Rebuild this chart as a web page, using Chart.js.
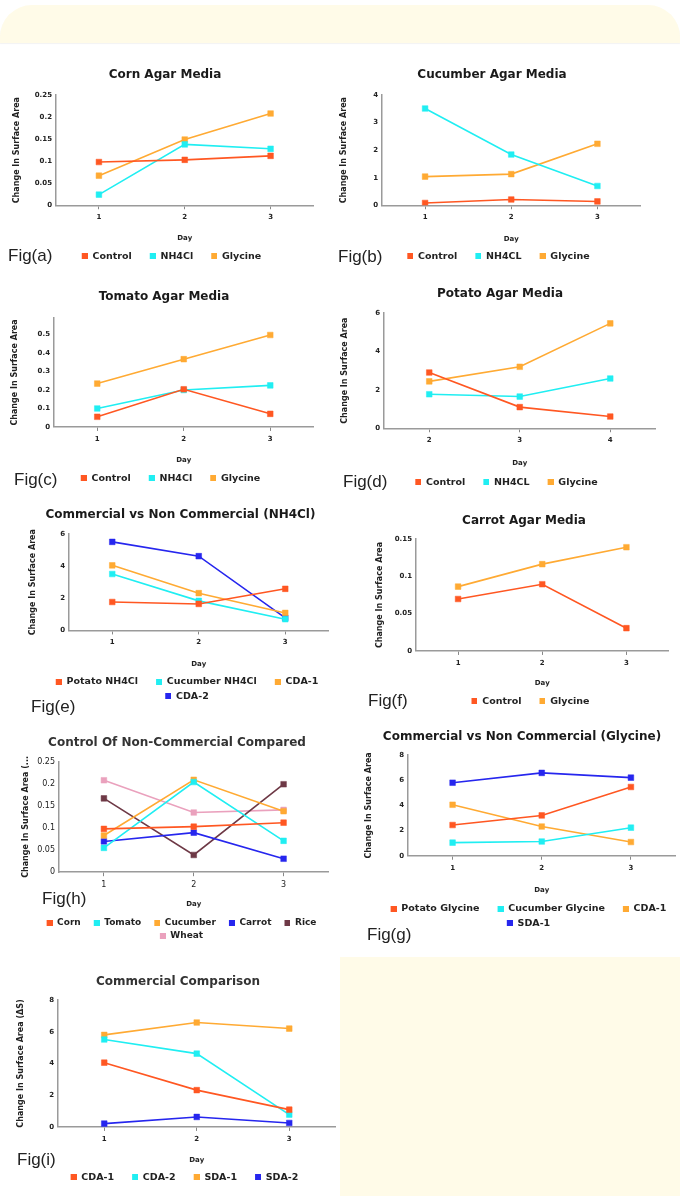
<!DOCTYPE html>
<html>
<head>
<meta charset="utf-8">
<script src="https://cdn.jsdelivr.net/npm/chart.js@4.4.0/dist/chart.umd.min.js"></script>
<style>
  html, body { margin: 0; padding: 0; background: #fff; }
  body { position: relative; width: 680px; height: 1196px; overflow: hidden; }
  .banner { position: absolute; left: 0; top: 5px; width: 680px; height: 38px; background: #fffbe8;
            border-radius: 32px 32px 0 0; box-shadow: 0 1px 1px rgba(0,0,0,0.05); }
  .note { position: absolute; left: 340px; top: 957px; width: 340px; height: 239px; background: #fffbe8; }
  .fig { position: absolute; font-family: "Liberation Sans", Arial, sans-serif; font-size: 17px; color: #222;
         line-height: 20px; height: 20px; white-space: nowrap; z-index: 2; }
  canvas { position: absolute; }
</style>
</head>
<body>
<div class="banner"></div>
<div class="note"></div>

<canvas id="figA"></canvas>
<canvas id="figB"></canvas>
<canvas id="figC"></canvas>
<canvas id="figD"></canvas>
<canvas id="figE"></canvas>
<canvas id="figF"></canvas>
<canvas id="figH"></canvas>
<canvas id="figG"></canvas>
<canvas id="figI"></canvas>

<div class="fig" style="left:8px;top:246px">Fig(a)</div>
<div class="fig" style="left:338px;top:247px">Fig(b)</div>
<div class="fig" style="left:14px;top:470px">Fig(c)</div>
<div class="fig" style="left:343px;top:472px">Fig(d)</div>
<div class="fig" style="left:31px;top:697px">Fig(e)</div>
<div class="fig" style="left:368px;top:691px">Fig(f)</div>
<div class="fig" style="left:42px;top:889px">Fig(h)</div>
<div class="fig" style="left:367px;top:925px">Fig(g)</div>
<div class="fig" style="left:17px;top:1150px">Fig(i)</div>

<script>
// categories (days)
var days = ["1", "2", "3"];
var potatoDays = ["2", "3", "4"];

// control media
var cornControl = [0.098, 0.103, 0.112];
var tomatoControl = [0.055, 0.204, 0.071];
var cucumberControl = [0.083, 0.209, 0.138];
var potatoControl = [2.90, 1.10, 0.61];
var carrotControl = [0.0696, 0.0894, 0.0305];
var riceControl = [0.167, 0.039, 0.199];
var wheatControl = [0.208, 0.135, 0.141];

// NH4Cl media
var cornNH4Cl = [0.024, 0.138, 0.128];
var cucumberNH4Cl = [3.51, 1.84, 0.70];
var tomatoNH4Cl = [0.10, 0.20, 0.225];
var potatoNH4Cl = [1.77, 1.65, 2.59];

// Glycine media
var cornGlycine = [0.067, 0.149, 0.208];
var cucumberGlycine = [1.04, 1.13, 2.23];
var tomatoGlycine = [0.235, 0.367, 0.498];
var potatoGlycine = [2.44, 3.20, 5.46];
var carrotGlycine = [0.0862, 0.1163, 0.139];

// commercial media
var cda1 = [4.05, 2.32, 1.09];
var cda2 = [5.51, 4.62, 0.78];
var sda1 = [5.80, 6.58, 6.20];
var sda2 = [0.21, 0.63, 0.25];

var RED = "#ff5722";
var CYAN = "#20eef2";
var ORANGE = "#ffaa33";
var BLUE = "#2626ee";
var MAROON = "#6e3946";
var PINK = "#eaa1bd";

var FONT = "'DejaVu Sans', sans-serif";

// little legend marker, with empty room on its left to space the items out
function swatch(color, lead) {
  var c = document.createElement("canvas");
  c.width = lead + 6;
  c.height = 6;
  var g = c.getContext("2d");
  g.fillStyle = color;
  g.fillRect(lead, 0, 6, 6);
  return c;
}

function drawPanel(id, title, labels, series, yMax, yStep, yTitle, box, look) {
  look = look || {};
  var legendSize = look.legendSize || 9.5;
  var legendPad = look.legendPad || 5;
  var lead = look.lead || 13;
  var tickWeight = look.tickWeight || "bold";
  var tickSize = look.tickSize || 7;
  var titleColor = look.titleColor || "#1a1a1a";

  var top = Math.round(box.titleY - 11.2);
  var titlePadBottom = box.plotTop - top - 18.4;
  var xh = box.legendY - box.zeroY - (legendPad + legendSize / 2);
  var dayPadBottom = xh - (box.dayY - box.zeroY) - 4.2;
  var legendH = (box.rows || 1) * (legendSize + legendPad) + 10;
  var yw = box.plotLeft - box.left;

  var canvas = document.getElementById(id);
  canvas.width = box.right - box.left;
  canvas.height = Math.round(box.zeroY - top + xh + legendH);
  canvas.style.left = box.left + "px";
  canvas.style.top = top + "px";

  new Chart(canvas, {
    type: "line",
    data: {
      labels: labels,
      datasets: series.map(function (s) {
        return {
          label: s[0], data: s[1],
          borderColor: s[2], backgroundColor: s[2],
          pointBackgroundColor: s[2], pointBorderColor: s[2],
          borderWidth: 1.6, pointStyle: "rect", pointRadius: 4, pointBorderWidth: 0.5,
          tension: 0
        };
      })
    },
    options: {
      responsive: false,
      animation: false,
      layout: { padding: 0 },
      plugins: {
        title: {
          display: true, text: title, color: titleColor,
          font: { family: FONT, size: 12, weight: "bold" },
          padding: { top: 4, bottom: titlePadBottom }
        },
        legend: {
          position: "bottom",
          labels: {
            font: { family: FONT, size: legendSize, weight: "bold" },
            color: "#222",
            padding: legendPad,
            usePointStyle: true,
            pointStyleWidth: lead + 6,
            boxHeight: 6,
            generateLabels: function (chart) {
              var items = Chart.defaults.plugins.legend.labels.generateLabels(chart);
              items.forEach(function (it) {
                it.pointStyle = swatch(chart.data.datasets[it.datasetIndex].borderColor, lead);
              });
              return items;
            }
          }
        },
        tooltip: { enabled: false }
      },
      scales: {
        x: {
          offset: true,
          grid: { display: true, drawOnChartArea: false, drawTicks: true, tickLength: 4, offset: false, color: "#888" },
          border: { display: true, color: "#9a9a9a", width: 1.5 },
          ticks: { font: { family: FONT, size: tickSize, weight: tickWeight }, color: "#222", padding: 4 },
          title: {
            display: true, text: "Day", color: "#222",
            font: { family: FONT, size: 7, weight: "bold" },
            padding: { top: 0, bottom: dayPadBottom }
          },
          afterFit: function (scale) { scale.height = xh; }
        },
        y: {
          min: 0, max: yMax,
          ticks: {
            stepSize: yStep, includeBounds: false, padding: 4,
            font: { family: FONT, size: tickSize, weight: tickWeight }, color: "#222",
            callback: function (v) { return String(Math.round(v * 1000) / 1000); }
          },
          grid: { display: false, drawTicks: false },
          border: { display: true, color: "#9a9a9a", width: 1.5 },
          title: {
            display: true, text: yTitle, color: "#222",
            font: { family: FONT, size: 8, weight: "bold" },
            padding: { top: 0, bottom: 0 }
          },
          afterFit: function (scale) { scale.width = yw; }
        }
      }
    }
  });
}

var AREA = "Change In Surface Area";

drawPanel("figA", "Corn Agar Media", days,
  [["Control", cornControl, RED], ["NH4Cl", cornNH4Cl, CYAN], ["Glycine", cornGlycine, ORANGE]],
  0.25, 0.05, AREA,
  { left: 12, right: 318, plotLeft: 56, titleY: 75, plotTop: 95, zeroY: 205, dayY: 238, legendY: 256 });

drawPanel("figB", "Cucumber Agar Media", days,
  [["Control", cucumberControl, RED], ["NH4CL", cucumberNH4Cl, CYAN], ["Glycine", cucumberGlycine, ORANGE]],
  4, 1, AREA,
  { left: 339, right: 645, plotLeft: 382, titleY: 75, plotTop: 95, zeroY: 205, dayY: 239, legendY: 256 });

drawPanel("figC", "Tomato Agar Media", days,
  [["Control", tomatoControl, RED], ["NH4Cl", tomatoNH4Cl, CYAN], ["Glycine", tomatoGlycine, ORANGE]],
  0.59, 0.1, AREA,
  { left: 10, right: 318, plotLeft: 54, titleY: 297, plotTop: 318, zeroY: 426.7, dayY: 460, legendY: 478 });

drawPanel("figD", "Potato Agar Media", potatoDays,
  [["Control", potatoControl, RED], ["NH4CL", potatoNH4Cl, CYAN], ["Glycine", potatoGlycine, ORANGE]],
  6, 2, AREA,
  { left: 340, right: 660, plotLeft: 384, titleY: 294, plotTop: 313, zeroY: 428, dayY: 463, legendY: 482 });

drawPanel("figE", "Commercial vs Non Commercial (NH4Cl)", days,
  [["Potato NH4Cl", potatoNH4Cl, RED], ["Cucumber NH4Cl", cucumberNH4Cl, CYAN],
   ["CDA-1", cda1, ORANGE], ["CDA-2", cda2, BLUE]],
  6, 2, AREA,
  { left: 28, right: 333, plotLeft: 69, titleY: 515, plotTop: 534, zeroY: 630.7, dayY: 664, legendY: 682, rows: 2 });

drawPanel("figF", "Carrot Agar Media", days,
  [["Control", carrotControl, RED], ["Glycine", carrotGlycine, ORANGE]],
  0.15, 0.05, AREA,
  { left: 375, right: 673, plotLeft: 416, titleY: 521, plotTop: 539, zeroY: 650.7, dayY: 683, legendY: 701 });

drawPanel("figH", "Control Of Non-Commercial Compared", days,
  [["Corn", cornControl, RED], ["Tomato", tomatoControl, CYAN], ["Cucumber", cucumberControl, ORANGE],
   ["Carrot", carrotControl, BLUE], ["Rice", riceControl, MAROON], ["Wheat", wheatControl, PINK]],
  0.25, 0.05, "Change In Surface Area (...",
  { left: 21, right: 333, plotLeft: 59, titleY: 743, plotTop: 761.7, zeroY: 871.7, dayY: 904, legendY: 922, rows: 2 },
  { legendSize: 9, legendPad: 4, lead: 9, tickWeight: "normal", tickSize: 8, titleColor: "#333" });

drawPanel("figG", "Commercial vs Non Commercial (Glycine)", days,
  [["Potato Glycine", potatoGlycine, RED], ["Cucumber Glycine", cucumberGlycine, CYAN],
   ["CDA-1", cda1, ORANGE], ["SDA-1", sda1, BLUE]],
  8, 2, AREA,
  { left: 364, right: 680, plotLeft: 408, titleY: 737, plotTop: 755, zeroY: 856, dayY: 890, legendY: 909, rows: 2 });

drawPanel("figI", "Commercial Comparison", days,
  [["CDA-1", cda1, RED], ["CDA-2", cda2, CYAN], ["SDA-1", sda1, ORANGE], ["SDA-2", sda2, BLUE]],
  8, 2, "Change In Surface Area (\u0394S)",
  { left: 16, right: 340, plotLeft: 58, titleY: 982, plotTop: 1000, zeroY: 1126.7, dayY: 1160, legendY: 1177 },
  { titleColor: "#333" });
</script>
</body>
</html>
